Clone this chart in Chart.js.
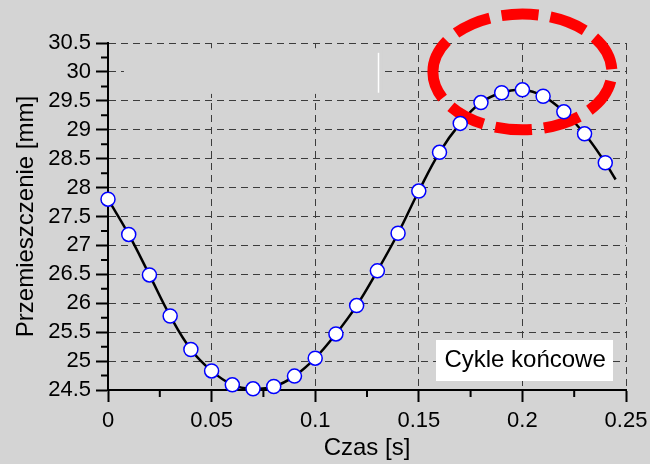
<!DOCTYPE html>
<html>
<head>
<meta charset="utf-8">
<script src="https://cdn.jsdelivr.net/npm/chart.js@4"></script>
<style>
  html, body { margin: 0; padding: 0; background: #d4d4d4; }
  #wrap { width: 650px; height: 464px; }
</style>
</head>
<body>
<div id="wrap"><canvas id="plot" width="650" height="464"></canvas></div>
<script>
// measured samples (time [s] -> displacement [mm])
const times = [0, 0.01, 0.02, 0.03, 0.04, 0.05, 0.06, 0.07, 0.08, 0.09, 0.1, 0.11, 0.12,
  0.13, 0.14, 0.15, 0.16, 0.17, 0.18, 0.19, 0.2, 0.21, 0.22, 0.23, 0.24];
const disp = [27.80, 27.19, 26.49, 25.78, 25.20, 24.83, 24.59, 24.52, 24.56, 24.74, 25.05, 25.47, 25.96,
  26.56, 27.21, 27.94, 28.61, 29.11, 29.47, 29.64, 29.69, 29.58, 29.31, 28.93, 28.43];
// the fitted curve runs a little past the last sample
const tailT = 0.245;
const tailY = 28.14;

const xTicks = [0, 0.05, 0.1, 0.15, 0.2, 0.25];
const xLabels = ['0', '0.05', '0.1', '0.15', '0.2', '0.25'];
const yTicks = [24.5, 25, 25.5, 26, 26.5, 27, 27.5, 28, 28.5, 29, 29.5, 30, 30.5];
const yLabels = ['24.5', '25', '25.5', '26', '26.5', '27', '27.5', '28', '28.5', '29', '29.5', '30', '30.5'];

const noteText = 'Cykle końcowe';
const xTitle = 'Czas [s]';
const yTitle = 'Przemieszczenie [mm]';

const BG = '#d4d4d4';
const FONT = "'Liberation Sans', Arial, sans-serif";

Chart.defaults.font.family = FONT;
Chart.defaults.color = '#000';

const markerPts = times.map((t, i) => ({ x: t, y: disp[i] }));
const curvePts = markerPts.concat([{ x: tailT, y: tailY }]);

// little helpers drawn on top of the library's scales
const extras = {
  id: 'extras',
  beforeDatasetsDraw(chart) {
    const { ctx, scales: { x, y } } = chart;
    ctx.save();
    // blank patch over the grid (upper left of plot)
    ctx.fillStyle = BG;
    const l = x.getPixelForValue(0.0077), r = x.getPixelForValue(0.1327);
    const t = y.getPixelForValue(30.41), b = y.getPixelForValue(29.62);
    ctx.fillRect(l, t, r - l, b - t);
    ctx.strokeStyle = '#fff';
    ctx.lineWidth = 1.5;
    ctx.beginPath();
    const wx = Math.round(x.getPixelForValue(0.1303)) + 0.5;
    ctx.moveTo(wx, y.getPixelForValue(30.33));
    ctx.lineTo(wx, y.getPixelForValue(29.64));
    ctx.stroke();

    // minor ticks
    ctx.strokeStyle = '#000';
    ctx.lineWidth = 2;
    ctx.beginPath();
    for (let i = 0; i < xTicks.length - 1; i++) {
      const px = x.getPixelForValue((xTicks[i] + xTicks[i + 1]) / 2);
      ctx.moveTo(px, x.top);
      ctx.lineTo(px, x.top + 7);
    }
    for (let i = 0; i < yTicks.length - 1; i++) {
      const py = y.getPixelForValue((yTicks[i] + yTicks[i + 1]) / 2);
      ctx.moveTo(y.right, py);
      ctx.lineTo(y.right - 7, py);
    }
    ctx.stroke();
    ctx.restore();
  },
  afterDatasetDraw(chart, args) {
    if (args.index !== 1) return;
    // red dashed ellipse around the peak (under the markers)
    const { ctx, scales: { x, y } } = chart;
    const cx = x.getPixelForValue(0.2), cy = y.getPixelForValue(30);
    const rx = x.getPixelForValue(0.2432) - cx;
    const ry = cy - y.getPixelForValue(31);
    ctx.save();
    ctx.strokeStyle = '#ff0000';
    ctx.lineWidth = 11;
    ctx.setLineDash([37, 12]);
    ctx.lineDashOffset = 2;
    ctx.beginPath();
    ctx.ellipse(cx, cy, rx, ry, 0, Math.PI, 3 * Math.PI);
    ctx.stroke();
    ctx.restore();
  },
  afterDatasetsDraw(chart) {
    const { ctx, scales: { x, y } } = chart;
    ctx.save();
    ctx.font = '24px ' + FONT;
    const w = ctx.measureText(noteText).width + 16;
    const h = 41;
    const cx = x.getPixelForValue(0.2013), cy = y.getPixelForValue(25.01);
    ctx.fillStyle = '#fff';
    ctx.fillRect(Math.round(cx - w / 2), Math.round(cy - h / 2), Math.round(w), h);
    ctx.fillStyle = '#000';
    ctx.textAlign = 'center';
    ctx.textBaseline = 'middle';
    ctx.fillText(noteText, cx, cy);
    ctx.restore();
  }
};

new Chart(document.getElementById('plot'), {
  type: 'scatter',
  data: {
    datasets: [
      {
        label: 'pomiar',
        data: markerPts,
        showLine: false,
        pointRadius: 7,
        pointBackgroundColor: '#fff',
        pointBorderColor: '#0000ff',
        pointBorderWidth: 1.5,
        clip: false,
        order: 0,
      },
      {
        label: 'krzywa',
        data: curvePts,
        showLine: true,
        tension: 0.4,
        borderColor: '#000',
        borderWidth: 2.5,
        pointRadius: 0,
        order: 1,
      },
    ],
  },
  options: {
    responsive: false,
    devicePixelRatio: 1,
    animation: false,
    layout: { padding: { top: 43, right: 24, left: 0, bottom: 0 } },
    plugins: { legend: { display: false }, tooltip: { enabled: false } },
    scales: {
      x: {
        type: 'linear',
        min: 0,
        max: 0.25,
        afterBuildTicks: (s) => { s.ticks = xTicks.map((v) => ({ value: v })); },
        afterFit: (s) => { s.height = 74; s.paddingLeft = 0; s.paddingRight = 0; },
        ticks: {
          font: { size: 22 },
          padding: 6,
          maxRotation: 0,
          autoSkip: false,
          callback: (v, i) => xLabels[i],
        },
        grid: { color: '#3c3c3c', lineWidth: 1, tickLength: 12, tickColor: '#000', tickWidth: 2 },
        border: { display: true, color: '#000', width: 2, dash: [7, 5] },
        title: { display: true, text: xTitle, font: { size: 24 }, padding: { top: 0, bottom: 1 } },
      },
      y: {
        type: 'linear',
        min: 24.5,
        max: 30.5,
        afterBuildTicks: (s) => { s.ticks = yTicks.map((v) => ({ value: v })); },
        afterFit: (s) => { s.width = 108; s.paddingTop = 0; s.paddingBottom = 0; },
        ticks: {
          font: { size: 22 },
          padding: 5,
          autoSkip: false,
          callback: (v, i) => yLabels[i],
        },
        grid: { color: '#3c3c3c', lineWidth: 1, tickLength: 12, tickColor: '#000', tickWidth: 2 },
        border: { display: true, color: '#000', width: 2, dash: [7, 5] },
        title: { display: true, text: yTitle, font: { size: 24 }, padding: { top: 12, bottom: 0 } },
      },
    },
  },
  plugins: [extras],
});
</script>
</body>
</html>
